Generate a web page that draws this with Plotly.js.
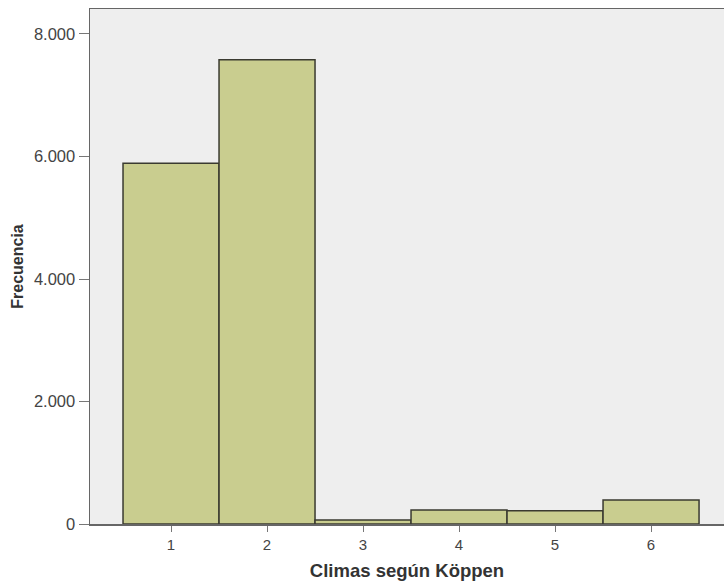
<!DOCTYPE html>
<html>
<head>
<meta charset="utf-8">
<script src="https://cdn.plot.ly/plotly-3.0.1.min.js"></script>
<style>html,body{margin:0;padding:0;background:#fff;}#chart{width:724px;height:587px;}</style>
</head>
<body>
<div id="chart"></div>
<script>
const categories = [1, 2, 3, 4, 5, 6];
const frecuencias = [5890, 7580, 65, 230, 215, 390];
const yTickValues = [0, 2000, 4000, 6000, 8000];
const yTickLabels = ['0', '2.000', '4.000', '6.000', '8.000'];

const trace = {
  type: 'bar',
  x: categories,
  y: frecuencias,
  width: 1,
  marker: {color: '#c9cd8f', line: {color: '#3a3a30', width: 1.5}},
  hoverinfo: 'x+y'
};

const layout = {
  width: 724, height: 587,
  margin: {l: 90, r: 0, t: 9, b: 63},
  paper_bgcolor: '#ffffff',
  plot_bgcolor: '#eeeeee',
  showlegend: false,
  separators: ',.',
  font: {family: 'Liberation Sans, Arial, sans-serif', color: '#444'},
  xaxis: {
    range: [0.156, 6.76],
    tickvals: categories,
    ticktext: categories.map(String),
    ticks: 'outside', ticklen: 6, tickcolor: '#777', tickwidth: 1,
    showgrid: false, zeroline: false,
    showline: true, linecolor: '#666', linewidth: 1.5, mirror: true,
    tickfont: {size: 15, color: '#444'},
    title: {text: '<b>Climas según Köppen</b>', font: {size: 18.5, color: '#333'}, standoff: 12}
  },
  yaxis: {
    range: [0, 8408],
    tickvals: yTickValues,
    ticktext: yTickLabels,
    ticks: 'outside', ticklen: 10, tickcolor: '#777', tickwidth: 1,
    showgrid: false, zeroline: false,
    showline: true, linecolor: '#666', linewidth: 1.5,
    tickfont: {size: 16.5, color: '#444'},
    title: {text: '<b>Frecuencia</b>', font: {size: 16, color: '#333'}, standoff: 6}
  }
};

Plotly.newPlot('chart', [trace], layout, {displayModeBar: false, staticPlot: true});
</script>
</body>
</html>
